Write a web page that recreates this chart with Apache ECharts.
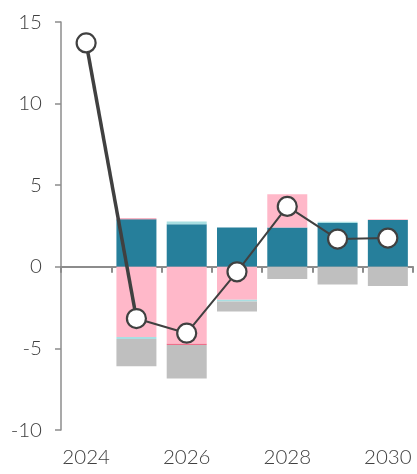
<!DOCTYPE html>
<html>
<head>
<meta charset="utf-8">
<script src="https://cdn.jsdelivr.net/npm/echarts@6/dist/echarts.min.js"></script>
<style>
  html, body { margin: 0; padding: 0; background: #ffffff; }
  #chart { width: 417px; height: 474px; }
</style>
</head>
<body>
<div id="chart"></div>
<script>
// Years on the category axis
const years = ['2024', '2025', '2026', '2027', '2028', '2029', '2030'];

// Stacked bar components (null where a year has no value)
const tealValues = [null, 2.92, 2.6, 2.41, 2.41, 2.68, 2.86];
const pinkValues = [null, -4.3, -4.72, -2.02, 2.03, null, 0.06];
const cyanValues = [null, -0.13, 0.18, -0.1, null, 0.08, null];
const redValues = [null, 0.04, -0.07, null, null, null, null];
const greyValues = [null, -1.67, -2.06, -0.62, -0.74, -1.08, -1.17];

// Total line: first segment and the rest
const totalHead = [13.72, -3.17, null, null, null, null, null];
const totalTail = [null, -3.17, -4.07, -0.31, 3.7, 1.7, 1.76];

// Y axis range
const yMin = -10, yMax = 15, yStep = 5;

const font = 'Lato, "Noto Sans", sans-serif';
const axisGrey = '#8c8c8c';
const textColor = '#404040';

const barCommon = {
  type: 'bar',
  stack: 'total',
  barWidth: 40,
  xAxisIndex: 0,
  emphasis: { disabled: true }
};

const chart = echarts.init(document.getElementById('chart'), null, { renderer: 'canvas' });
chart.setOption({
  animation: false,
  grid: { left: 61, right: 4, top: 22, bottom: 44, containLabel: false },
  xAxis: [
    {
      type: 'category',
      data: years,
      boundaryGap: true,
      axisLine: { onZero: true, lineStyle: { color: axisGrey, width: 2 } },
      axisTick: { show: true, length: 6, lineStyle: { color: axisGrey, width: 2 } },
      axisLabel: { show: false },
      splitLine: { show: false }
    },
    {
      type: 'category',
      data: years,
      position: 'bottom',
      axisLine: { show: false, onZero: false },
      axisTick: { show: false },
      axisLabel: {
        show: true,
        interval: 1,
        margin: 17,
        color: textColor,
        fontFamily: font,
        fontWeight: 300,
        fontSize: 20.5
      },
      splitLine: { show: false }
    }
  ],
  yAxis: {
    type: 'value',
    min: yMin,
    max: yMax,
    interval: yStep,
    axisLine: { show: true, onZero: false, lineStyle: { color: axisGrey, width: 1.5 } },
    axisTick: { show: true, inside: false, length: 6, lineStyle: { color: axisGrey, width: 1.5 } },
    axisLabel: {
      color: textColor,
      fontFamily: font,
      fontWeight: 300,
      fontSize: 20.5,
      margin: 19
    },
    splitLine: { show: false }
  },
  series: [
    Object.assign({}, barCommon, { name: 'teal', data: tealValues, itemStyle: { color: '#267f9b' } }),
    Object.assign({}, barCommon, { name: 'pink', data: pinkValues, itemStyle: { color: '#ffb8c9' } }),
    Object.assign({}, barCommon, { name: 'cyan', data: cyanValues, itemStyle: { color: '#a8dfe2' } }),
    Object.assign({}, barCommon, { name: 'red', data: redValues, itemStyle: { color: '#ee6f8b' } }),
    Object.assign({}, barCommon, { name: 'grey', data: greyValues, itemStyle: { color: '#bfbfbf' } }),
    {
      type: 'line',
      name: 'totalHead',
      data: totalHead,
      xAxisIndex: 0,
      showSymbol: false,
      symbol: 'none',
      lineStyle: { color: '#404040', width: 3.5 },
      z: 5,
      emphasis: { disabled: true }
    },
    {
      type: 'line',
      name: 'totalTail',
      data: totalTail,
      xAxisIndex: 0,
      symbol: 'none',
      lineStyle: { color: '#404040', width: 2 },
      z: 5,
      emphasis: { disabled: true }
    },
    {
      type: 'scatter',
      name: 'points',
      data: totalHead.map((v, i) => (v !== null ? v : totalTail[i])),
      xAxisIndex: 0,
      symbol: 'circle',
      symbolSize: 19,
      itemStyle: { color: '#ffffff', opacity: 1, borderColor: '#404040', borderWidth: 2.2 },
      z: 6,
      emphasis: { disabled: true }
    }
  ]
});
</script>
</body>
</html>
